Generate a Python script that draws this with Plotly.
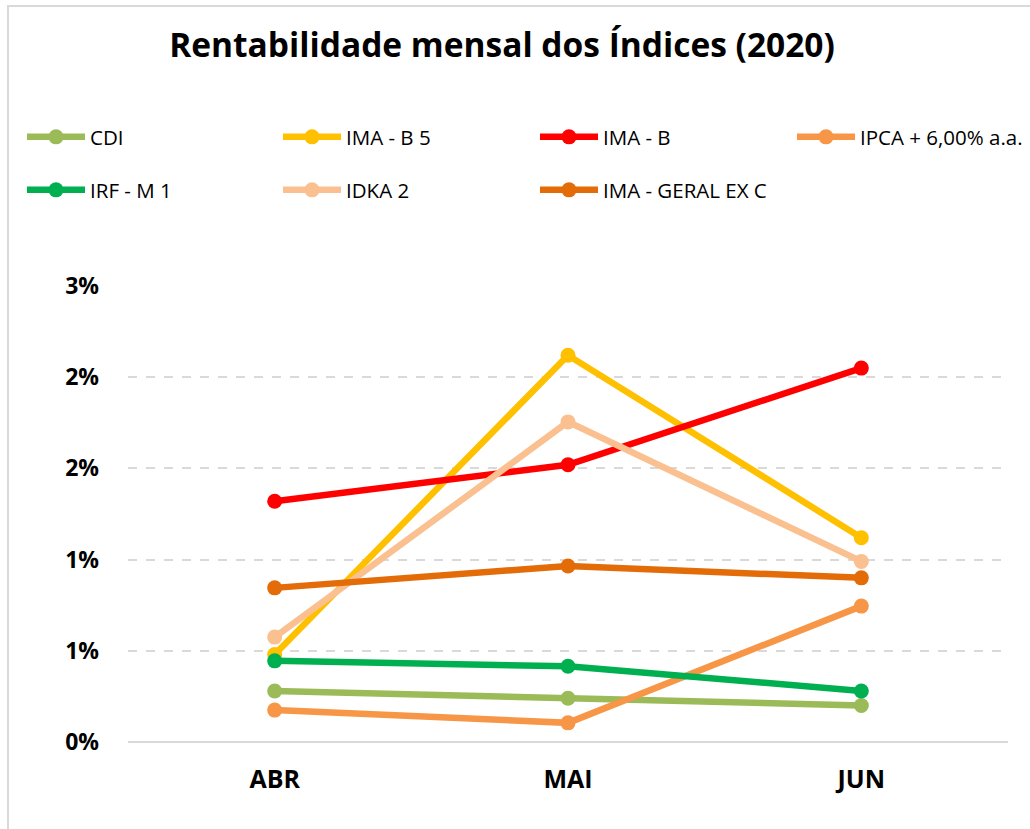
import plotly.graph_objects as go

months = ["ABR", "MAI", "JUN"]
series_names = ["CDI", "IMA - B 5", "IMA - B", "IPCA + 6,00% a.a.", "IRF - M 1", "IDKA 2", "IMA - GERAL EX C"]
cdi = [0.28, 0.24, 0.20]
ima_b5 = [0.48, 2.12, 1.12]
ima_b = [1.32, 1.52, 2.05]
ipca6 = [0.175, 0.105, 0.745]
irfm1 = [0.445, 0.415, 0.28]
idka2 = [0.575, 1.755, 0.99]
ima_geral = [0.845, 0.965, 0.90]
series_values = [cdi, ima_b5, ima_b, ipca6, irfm1, idka2, ima_geral]
colors = ["#9BBB59", "#FFC000", "#FF0000", "#F79646", "#00B050", "#FAC090", "#E36C09"]

tick_vals = [0, 0.5, 1.0, 1.5, 2.0, 2.5]
tick_text = ["0%", "1%", "1%", "2%", "2%", "3%"]

FONT = "Open Sans"

W, H = 1030, 829
L, R, T, B = 128, 1008, 286, 742
pw, ph = R - L, B - T

def px(x):
    return (x - L) / pw

def py(y):
    return (B - y) / ph

# legend entry positions (left of line symbol, row centre) in pixels
leg_x = [27, 283, 540, 797, 27, 283, 540]
leg_y = [137, 137, 137, 137, 190, 190, 190]

fig = go.Figure()
legends = {}
for i, (name, vals, col) in enumerate(zip(series_names, series_values, colors)):
    lname = "legend" if i == 0 else f"legend{i+1}"
    fig.add_trace(go.Scatter(
        x=months, y=vals, name=name, mode="lines+markers",
        line=dict(color=col, width=6.5),
        marker=dict(color=col, size=15),
        legend=lname, showlegend=True,
    ))
    legends[lname] = dict(
        orientation="h", xanchor="left", yanchor="middle",
        x=px(leg_x[i] - 5), y=py(leg_y[i]),
        font=dict(family=FONT, size=20.5, color="#000000"),
        itemwidth=58, bgcolor="rgba(0,0,0,0)",
        itemclick=False, itemdoubleclick=False,
    )

fig.update_layout(
    width=W, height=H, showlegend=True,
    margin=dict(l=L, r=W - R, t=T, b=H - B, pad=0, autoexpand=False),
    paper_bgcolor="white", plot_bgcolor="white",
    title=dict(text="<b>Rentabilidade mensal dos Índices (2020)</b>",
               xref="container", x=502 / W, xanchor="center",
               yref="container", y=1 - 45 / H, yanchor="middle",
               font=dict(family=FONT, size=33.5, color="#000000")),
    xaxis=dict(type="category", range=[-0.5, 2.5], showgrid=False, showline=False,
               ticks="", tickfont=dict(family=FONT, size=25, color="#000000", weight="bold"),
               ticklabelstandoff=20, fixedrange=True),
    yaxis=dict(range=[0, 2.5], tickvals=tick_vals, ticktext=tick_text,
               showgrid=True, gridcolor="#D9D9D9", griddash="dash", gridwidth=1.5,
               zeroline=True, zerolinecolor="#D9D9D9", zerolinewidth=2,
               showline=False, ticks="",
               tickfont=dict(family=FONT, size=23, color="#000000", weight="bold"),
               ticklabelstandoff=28, fixedrange=True),
    shapes=[dict(type="rect", xref="paper", yref="paper",
                 x0=px(8), x1=px(1040), y0=py(840), y1=py(6),
                 line=dict(color="#D9D9D9", width=2), fillcolor="rgba(0,0,0,0)", layer="below")],
    **legends,
)

fig.write_html("out.html", config={"displayModeBar": False},
               post_script="document.body.style.margin='0';")
